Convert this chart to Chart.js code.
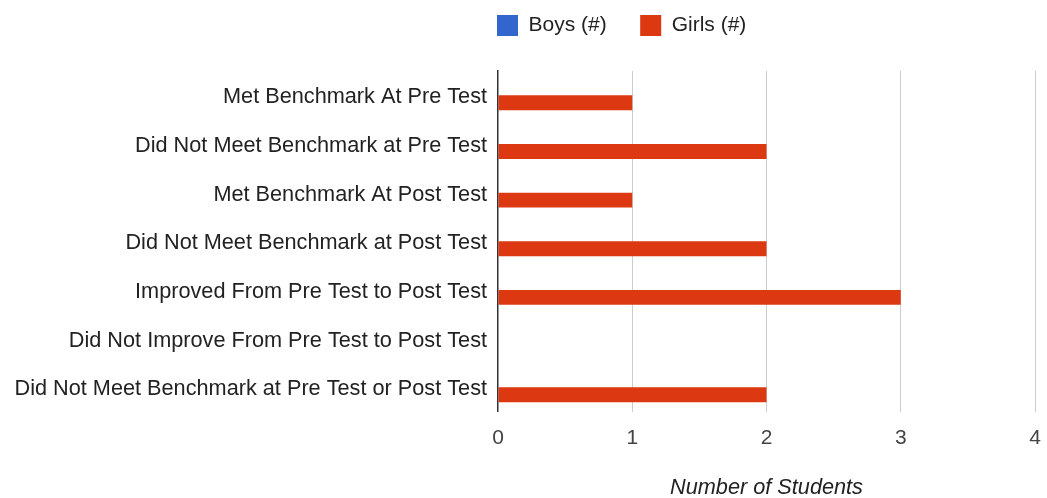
<!DOCTYPE html>
<html>
<head>
<meta charset="utf-8">
<script src="https://cdn.jsdelivr.net/npm/chart.js@4/dist/chart.umd.min.js"></script>
<style>
  html, body { margin: 0; padding: 0; background: #fff; }
  #wrap { width: 1047px; height: 498px; }
</style>
</head>
<body>
<div id="wrap"><canvas id="c" width="1047" height="498"></canvas></div>
<script>
const categories = [
  "Met Benchmark At Pre Test",
  "Did Not Meet Benchmark at Pre Test",
  "Met Benchmark At Post Test",
  "Did Not Meet Benchmark at Post Test",
  "Improved From Pre Test to Post Test",
  "Did Not Improve From Pre Test to Post Test",
  "Did Not Meet Benchmark at Pre Test or Post Test"
];
const boys = [0, 0, 0, 0, 0, 0, 0];
const girls = [1, 2, 1, 2, 3, 0, 2];
const seriesNames = ["Boys (#)", "Girls (#)"];
const xTicks = [0, 1, 2, 3, 4];
const xTitle = "Number of Students";

Chart.defaults.font.family = "'Liberation Sans', Arial, sans-serif";
Chart.defaults.font.size = 21;
Chart.defaults.color = "#222";

const LEGEND_PAD = 33.5;
const legendShift = {
  id: 'legendShift',
  beforeDraw(chart) {
    const lg = chart.legend;
    if (!lg) return;
    const h = lg.bottom - lg.top;
    lg.left = 497 - LEGEND_PAD;
    lg.right = 1047;
    lg.top = 15 - LEGEND_PAD;
    lg.bottom = lg.top + h;
  }
};

new Chart(document.getElementById('c'), {
  type: 'bar',
  data: {
    labels: categories,
    datasets: [
      { label: seriesNames[0], data: boys, backgroundColor: '#3366cc', borderWidth: 0 },
      { label: seriesNames[1], data: girls, backgroundColor: '#dc3912', borderWidth: 0 }
    ]
  },
  options: {
    indexAxis: 'y',
    responsive: false,
    devicePixelRatio: 1,
    animation: false,
    layout: { padding: { top: 6.5, left: 15, right: 12, bottom: -2.8 } },
    datasets: { bar: { categoryPercentage: 0.614, barPercentage: 1 } },
    plugins: {
      legend: {
        position: 'top',
        align: 'start',
        labels: {
          boxWidth: 21, boxHeight: 21, padding: LEGEND_PAD,
          color: '#222', font: { size: 21 }
        }
      },
      tooltip: { enabled: false }
    },
    scales: {
      x: {
        min: xTicks[0],
        max: xTicks[xTicks.length - 1],
        afterBuildTicks(s) { s.ticks = xTicks.map(v => ({ value: v })); },
        afterFit(s) { s.paddingLeft = 0; s.paddingRight = 0; },
        ticks: { stepSize: 1, padding: 14, color: '#444', font: { size: 21 } },
        grid: {
          drawTicks: false,
          color: (ctx) => (ctx.tick && ctx.tick.value === 0) ? 'rgba(0,0,0,0)' : '#cccccc',
          lineWidth: 1
        },
        border: { display: false },
        title: {
          display: true, text: xTitle, color: '#222',
          font: { size: 21.7, style: 'italic' },
          padding: { top: 10, bottom: 0 }
        }
      },
      y: {
        afterFit(s) { s.width = 483; s.paddingTop = 0; s.paddingBottom = 0; },
        ticks: { padding: 11, labelOffset: 2, color: '#222', font: { size: 21.7 } },
        grid: { display: false, drawTicks: false },
        border: { display: true, color: '#333', width: 1.5 }
      }
    }
  },
  plugins: [legendShift]
});
</script>
</body>
</html>
